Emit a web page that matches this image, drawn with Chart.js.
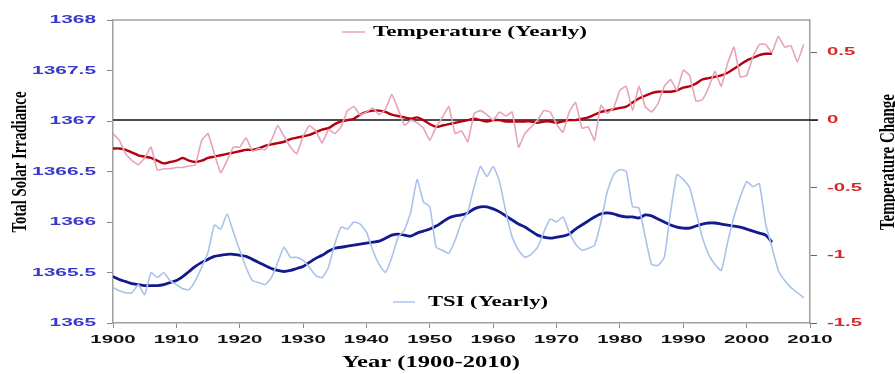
<!DOCTYPE html>
<html>
<head>
<meta charset="utf-8">
<script src="https://cdn.jsdelivr.net/npm/chart.js@4.4.0/dist/chart.umd.min.js"></script>
<style>
  html, body { margin: 0; padding: 0; background: #fff; }
  #wrap { width: 895px; height: 374px; }
</style>
</head>
<body>
<div id="wrap"><canvas id="tsiChart" width="895" height="374"></canvas></div>
<script>
// Years 1900-2009 (yearly series), smoothed series stop at 2004
const years = Array.from({ length: 110 }, (_, i) => 1900 + i);
const smoothYears = years.slice(0, 105);

const xTicks = [1900, 1910, 1920, 1930, 1940, 1950, 1960, 1970, 1980, 1990, 2000, 2010];
const tsiTicks = [1365, 1365.5, 1366, 1366.5, 1367, 1367.5, 1368];
const tempTicks = [-1.5, -1, -0.5, 0, 0.5];

// Temperature anomaly, yearly (right axis)
const tempYearly = [
  -0.10, -0.15, -0.25, -0.30, -0.33, -0.28, -0.20, -0.37, -0.36, -0.36,
  -0.35, -0.35, -0.34, -0.33, -0.15, -0.10, -0.25, -0.39, -0.30, -0.20,
  -0.20, -0.13, -0.23, -0.21, -0.22, -0.15, -0.04, -0.12, -0.20, -0.25,
  -0.12, -0.04, -0.08, -0.17, -0.07, -0.10, -0.05, 0.07, 0.10, 0.04,
  0.06, 0.09, 0.04, 0.08, 0.19, 0.08, -0.04, 0.00, -0.02, -0.06,
  -0.15, -0.05, 0.02, 0.10, -0.10, -0.08, -0.16, 0.05, 0.07, 0.04,
  0.00, 0.06, 0.03, 0.06, -0.20, -0.10, -0.05, 0.00, 0.07, 0.06,
  -0.03, -0.09, 0.06, 0.13, -0.06, -0.05, -0.15, 0.11, 0.05, 0.09,
  0.22, 0.25, 0.07, 0.25, 0.10, 0.06, 0.12, 0.25, 0.30, 0.22,
  0.37, 0.33, 0.14, 0.15, 0.24, 0.36, 0.25, 0.42, 0.54, 0.32,
  0.33, 0.47, 0.56, 0.56, 0.50, 0.62, 0.54, 0.55, 0.43, 0.56
];

// Temperature, smoothed (1900-2004)
const tempSmooth = [
  -0.21, -0.21, -0.22, -0.24, -0.26, -0.27, -0.28, -0.30, -0.32, -0.31,
  -0.30, -0.28, -0.30, -0.31, -0.30, -0.28, -0.27, -0.26, -0.25, -0.24,
  -0.23, -0.22, -0.22, -0.21, -0.19, -0.18, -0.17, -0.16, -0.14, -0.13,
  -0.12, -0.11, -0.09, -0.07, -0.06, -0.03, -0.01, 0.00, 0.01, 0.04,
  0.06, 0.07, 0.07, 0.06, 0.04, 0.03, 0.02, 0.01, 0.02, 0.00,
  -0.03, -0.05, -0.04, -0.03, -0.02, -0.01, 0.00, 0.01, 0.00, -0.01,
  0.00, 0.00, -0.01, -0.01, -0.01, -0.01, -0.01, -0.02, -0.01, -0.01,
  -0.02, -0.01, 0.00, 0.00, 0.01, 0.02, 0.04, 0.06, 0.07, 0.08,
  0.09, 0.10, 0.13, 0.16, 0.18, 0.20, 0.21, 0.21, 0.21, 0.22,
  0.24, 0.25, 0.27, 0.30, 0.31, 0.32, 0.33, 0.35, 0.38, 0.41,
  0.44, 0.46, 0.48, 0.49, 0.49
];

// Total solar irradiance, yearly (left axis)
const tsiYearly = [
  1365.35, 1365.32, 1365.30, 1365.30, 1365.38, 1365.28, 1365.50, 1365.45, 1365.50, 1365.42,
  1365.38, 1365.34, 1365.33, 1365.42, 1365.55, 1365.70, 1365.97, 1365.93, 1366.08, 1365.90,
  1365.72, 1365.55, 1365.42, 1365.40, 1365.38, 1365.45, 1365.60, 1365.75, 1365.65, 1365.65,
  1365.62, 1365.55, 1365.47, 1365.45, 1365.55, 1365.78, 1365.95, 1365.93, 1366.00, 1365.98,
  1365.90, 1365.72, 1365.58, 1365.50, 1365.65, 1365.85, 1365.92, 1366.10, 1366.42, 1366.20,
  1366.15, 1365.75, 1365.72, 1365.69, 1365.82, 1366.00, 1366.10, 1366.35, 1366.55, 1366.45,
  1366.55, 1366.40, 1366.10, 1365.85, 1365.72, 1365.65, 1365.68, 1365.75, 1365.90, 1366.03,
  1366.00, 1366.05, 1365.90, 1365.78, 1365.72, 1365.74, 1365.77, 1366.00, 1366.30, 1366.47,
  1366.52, 1366.50, 1366.15, 1366.14, 1365.85, 1365.58, 1365.57, 1365.65, 1366.10, 1366.47,
  1366.42, 1366.34, 1366.10, 1365.85, 1365.68, 1365.58, 1365.52, 1365.80, 1366.05, 1366.25,
  1366.40, 1366.35, 1366.38, 1365.98, 1365.75, 1365.52, 1365.42, 1365.35, 1365.30, 1365.25
];

// TSI, smoothed (1900-2004)
const tsiSmooth = [
  1365.46, 1365.43, 1365.41, 1365.39, 1365.38, 1365.37, 1365.37, 1365.37, 1365.38, 1365.40,
  1365.42, 1365.46, 1365.51, 1365.56, 1365.60, 1365.63, 1365.66, 1365.67, 1365.68, 1365.68,
  1365.67, 1365.66, 1365.63, 1365.60, 1365.57, 1365.54, 1365.52, 1365.51, 1365.52, 1365.54,
  1365.56, 1365.60, 1365.64, 1365.67, 1365.71, 1365.74, 1365.75, 1365.76, 1365.77, 1365.78,
  1365.79, 1365.80, 1365.81, 1365.84, 1365.87, 1365.88, 1365.87, 1365.86, 1365.89, 1365.91,
  1365.93, 1365.96, 1366.00, 1366.04, 1366.06, 1366.07, 1366.09, 1366.13, 1366.15, 1366.15,
  1366.13, 1366.10, 1366.06, 1366.02, 1365.98, 1365.95, 1365.91, 1365.87, 1365.85, 1365.84,
  1365.85, 1365.86, 1365.88, 1365.93, 1365.97, 1366.01, 1366.05, 1366.08, 1366.09, 1366.08,
  1366.06, 1366.05, 1366.05, 1366.04, 1366.07, 1366.06, 1366.03, 1366.00, 1365.97, 1365.95,
  1365.94, 1365.94, 1365.96, 1365.98, 1365.99, 1365.99, 1365.98, 1365.97, 1365.96, 1365.95,
  1365.93, 1365.91, 1365.89, 1365.87, 1365.80
];

function toPoints(xs, ys) {
  return ys.map((v, i) => ({ x: xs[i], y: v }));
}

// Draw text squeezed/stretched to a target length (the source image is stretched sideways)
function drawText(ctx, text, x, y, opts) {
  ctx.save();
  ctx.font = opts.font;
  ctx.fillStyle = opts.color || '#000';
  ctx.textAlign = opts.align || 'left';
  ctx.textBaseline = 'middle';
  ctx.translate(x, y);
  if (opts.rotate) ctx.rotate(opts.rotate);
  const sx = opts.width ? opts.width / ctx.measureText(text).width : (opts.sx || 1);
  ctx.scale(sx, opts.sy || 1);
  ctx.fillText(text, 0, 0);
  ctx.restore();
}

const decorations = {
  id: 'decorations',
  beforeDatasetsDraw(chart) {
    const { ctx, chartArea: a, scales } = chart;
    const y0 = scales.y1.getPixelForValue(0);
    ctx.save();
    // top frame
    ctx.strokeStyle = '#a0a0a0';
    ctx.lineWidth = 1.5;
    ctx.beginPath();
    ctx.moveTo(a.left, a.top);
    ctx.lineTo(a.right, a.top);
    ctx.stroke();
    // zero line
    ctx.strokeStyle = '#111';
    ctx.lineWidth = 1.5;
    ctx.beginPath();
    ctx.moveTo(a.left, y0);
    ctx.lineTo(a.right + 8, y0);
    ctx.stroke();
    ctx.restore();
  },
  afterDraw(chart) {
    const { ctx, scales } = chart;
    const bold = '"Liberation Sans", Arial, sans-serif';
    const serif = '"Liberation Serif", "Times New Roman", serif';

    tsiTicks.forEach(v => {
      drawText(ctx, String(v), 96, scales.y.getPixelForValue(v),
        { font: 'bold 11px ' + bold, color: '#3838cc', align: 'right', sx: 1.9 });
    });
    tempTicks.forEach(v => {
      drawText(ctx, String(v), 827, scales.y1.getPixelForValue(v),
        { font: 'bold 11px ' + bold, color: '#d22a2a', align: 'left', sx: 1.85 });
    });
    xTicks.forEach(v => {
      drawText(ctx, String(v), scales.x.getPixelForValue(v), 340,
        { font: 'bold 11px ' + bold, color: '#111', align: 'center', sx: 1.85 });
    });

    // axis titles
    drawText(ctx, 'Year (1900-2010)', 431, 363,
      { font: 'bold 16px ' + serif, align: 'center', width: 178 });
    drawText(ctx, 'Total Solar Irradiance', 21, 162,
      { font: 'bold 14px ' + serif, align: 'center', rotate: -Math.PI / 2, width: 141, sy: 1.5 });
    drawText(ctx, 'Temperature Change', 889, 162,
      { font: 'bold 14px ' + serif, align: 'center', rotate: -Math.PI / 2, width: 136, sy: 1.5 });

    // legends
    ctx.save();
    ctx.lineWidth = 1.5;
    ctx.strokeStyle = '#e8a3b8';
    ctx.beginPath(); ctx.moveTo(342, 32); ctx.lineTo(365, 32); ctx.stroke();
    ctx.strokeStyle = '#a9c3ea';
    ctx.beginPath(); ctx.moveTo(393, 302); ctx.lineTo(415, 302); ctx.stroke();
    ctx.restore();
    drawText(ctx, 'Temperature (Yearly)', 373, 32,
      { font: 'bold 15px ' + serif, width: 214 });
    drawText(ctx, 'TSI (Yearly)', 428, 302,
      { font: 'bold 15px ' + serif, width: 120 });
  }
};

function initChart() {
  const ctx = document.getElementById('tsiChart').getContext('2d');
  new Chart(ctx, {
    type: 'line',
    data: {
      datasets: [
        {
          label: 'TSI (Yearly)',
          data: toPoints(years, tsiYearly),
          borderColor: '#a9c3ea',
          borderWidth: 1.6,
          yAxisID: 'y',
          tension: 0.15
        },
        {
          label: 'TSI (Smoothed)',
          data: toPoints(smoothYears, tsiSmooth),
          borderColor: '#121a8e',
          borderWidth: 2.8,
          yAxisID: 'y',
          tension: 0.3
        },
        {
          label: 'Temperature (Yearly)',
          data: toPoints(years, tempYearly),
          borderColor: '#e8a3b8',
          borderWidth: 1.6,
          yAxisID: 'y1',
          tension: 0.1
        },
        {
          label: 'Temperature (Smoothed)',
          data: toPoints(smoothYears, tempSmooth),
          borderColor: '#b5000f',
          borderWidth: 2.4,
          yAxisID: 'y1',
          tension: 0.3
        }
      ]
    },
    options: {
      responsive: false,
      animation: false,
      events: [],
      elements: { point: { radius: 0 } },
      layout: { padding: { top: 20, left: 0, right: 0, bottom: 0 } },
      plugins: {
        legend: { display: false },
        title: { display: false },
        tooltip: { enabled: false }
      },
      scales: {
        x: {
          type: 'linear',
          min: 1900,
          max: 2010,
          ticks: { display: false, stepSize: 10 },
          grid: { drawOnChartArea: false, tickLength: 5, color: '#888' },
          border: { color: '#a0a0a0', width: 1.5 },
          afterFit(scale) { scale.height = 51; }
        },
        y: {
          position: 'left',
          min: 1365,
          max: 1368,
          ticks: { display: false, stepSize: 0.5 },
          grid: { drawOnChartArea: false, tickLength: 6, color: '#888' },
          border: { color: '#a0a0a0', width: 1.5 },
          afterFit(scale) { scale.width = 113; }
        },
        y1: {
          position: 'right',
          min: -1.5,
          max: 0.74,
          ticks: { display: false, stepSize: 0.5, includeBounds: false },
          grid: { drawOnChartArea: false, tickLength: 7, color: '#666' },
          border: { color: '#a0a0a0', width: 1.5 },
          afterFit(scale) { scale.width = 85; }
        }
      }
    },
    plugins: [decorations]
  });
}

initChart();
</script>
</body>
</html>
